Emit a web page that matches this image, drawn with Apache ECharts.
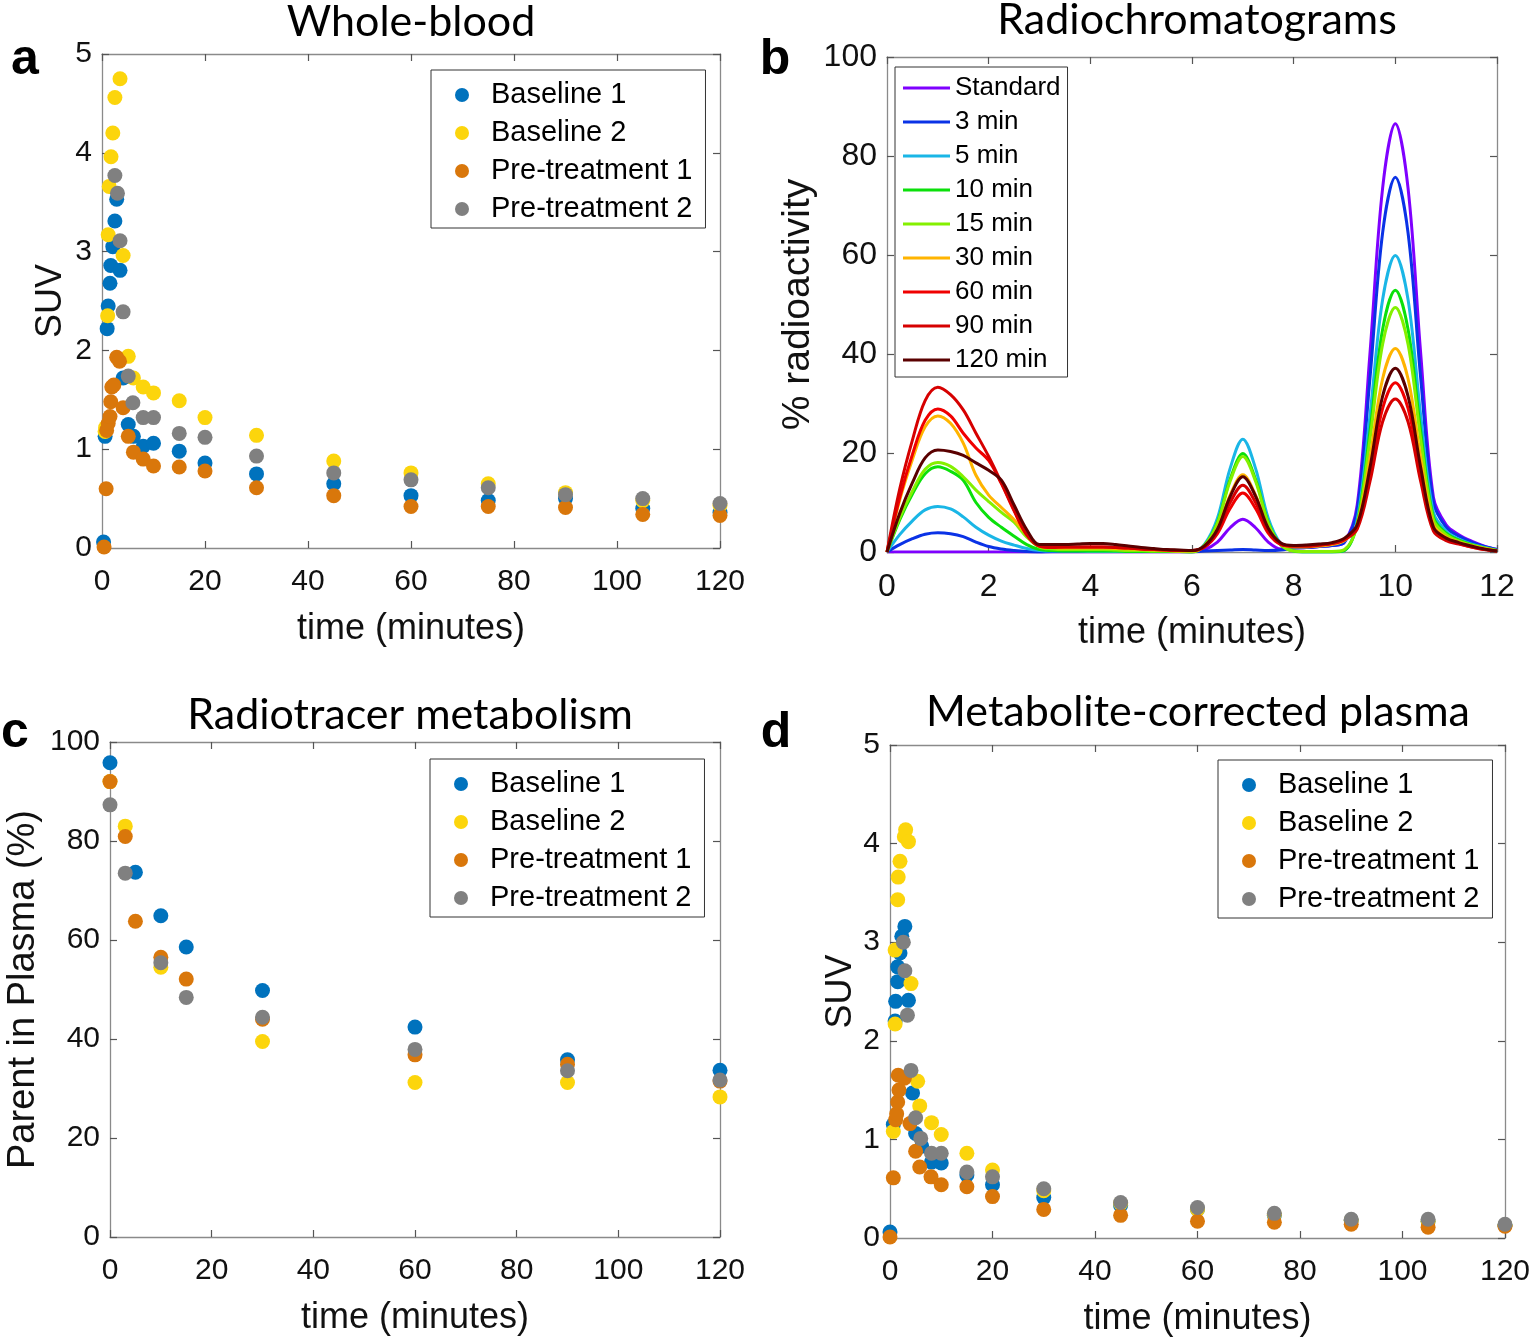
<!DOCTYPE html>
<html><head><meta charset="utf-8">
<script src="https://cdn.jsdelivr.net/npm/echarts@6/dist/echarts.min.js"></script>
<style>html,body{margin:0;padding:0;background:#fff}#c{width:1533px;height:1338px}</style>
</head><body><div id="c"></div>
<script>
// ---------- Panel a: Whole-blood SUV ----------
const wbB1_t = [0.3, 0.6, 1.0, 1.2, 1.55, 1.7, 2.1, 2.5, 2.85, 3.5, 4.1, 5.1, 6.1, 8, 10, 15, 20, 30, 45, 60, 75, 90, 105, 120];
const wbB1_v = [0.06, 1.13, 2.22, 2.45, 2.68, 2.86, 3.05, 3.31, 3.53, 2.81, 1.72, 1.25, 1.13, 1.03, 1.06, 0.98, 0.86, 0.75, 0.65, 0.53, 0.48, 0.50, 0.40, 0.36];
const wbB2_t = [0.6, 0.7, 1.1, 1.2, 1.4, 1.75, 2.1, 2.5, 3.5, 4.1, 5.1, 6.1, 8, 10, 15, 20, 30, 45, 60, 75, 90, 105, 120];
const wbB2_v = [1.18, 1.22, 2.35, 3.17, 3.66, 3.96, 4.20, 4.56, 4.75, 2.96, 1.94, 1.72, 1.63, 1.57, 1.49, 1.32, 1.14, 0.88, 0.76, 0.65, 0.56, 0.48, 0.43];
const wbP1_t = [0.4, 0.8, 0.9, 1.2, 1.55, 1.7, 1.9, 2.3, 2.85, 3.4, 4.1, 5.1, 6.1, 8, 10, 15, 20, 30, 45, 60, 75, 90, 105, 120];
const wbP1_v = [0.01, 0.60, 1.19, 1.26, 1.33, 1.48, 1.63, 1.65, 1.93, 1.89, 1.42, 1.13, 0.97, 0.90, 0.83, 0.82, 0.78, 0.61, 0.53, 0.42, 0.42, 0.41, 0.34, 0.33];
const wbP2_t = [2.5, 3.0, 3.5, 4.1, 5.1, 6.0, 8, 10, 15, 20, 30, 45, 60, 75, 90, 105, 120];
const wbP2_v = [3.77, 3.59, 3.11, 2.39, 1.74, 1.47, 1.32, 1.32, 1.16, 1.12, 0.93, 0.76, 0.69, 0.61, 0.54, 0.50, 0.45];

// ---------- Panel b: Radiochromatograms ----------
const rcTime = [0,0.25,0.5,0.75,1,1.25,1.5,1.75,2,2.25,2.5,2.75,3,3.25,3.5,3.75,4,4.25,4.5,4.75,5,5.25,5.5,5.75,6,6.25,6.5,6.75,7,7.25,7.5,7.75,8,8.25,8.5,8.75,9,9.25,9.5,9.75,10,10.25,10.5,10.75,11,11.25,11.5,11.75,12];
const rcNames = ['Standard','3 min','5 min','10 min','15 min','30 min','60 min','90 min','120 min'];
const rcStandard = [0,0,0,0,0,0,0,0,0,0,0,0,0, 0,0,0,0,0,0,0,0,0,0,0, 0,0.5,2.0,4.9,6.6,4.9,2.0,0.6,0.8, 0.9,1.1,1.3, 2.0,9.5,40,73.5,86.5,73.5,40,11,5.5, 3.5,2.2,1.2,0.5];
const rc3 = [0,1.5,2.7,3.6,3.9,3.7,3.1,2.0,1.1,0.6,0.3,0.1,0, 0.1,0.1,0.1,0.1,0.1,0.1,0.1,0.1,0.1,0.1,0.1, 0.1,0.2,0.3,0.4,0.5,0.4,0.3,0.4,0.8, 0.9,1.1,1.3, 2.0,8.5,35,64.5,75.7,64.5,35,10,5, 3.2,2.0,1.1,0.5];
const rc5 = [0,3.5,6.3,8.5,9.2,8.7,7.1,5.0,3.4,2.2,1.4,0.7,0.3, 0.2,0.2,0.2,0.1,0.1,0.1,0.1,0.1,0.1,0.1,0.1, 0,1.6,6.8,16.9,22.8,16.9,6.8,1.6,0.2, 0,0,0, 0.3,6.5,27.5,51,59.9,51,27.5,8,4.2, 2.6,1.6,0.9,0.3];
const rc10 = [0,6.5,11.7,15.8,17.2,16.3,14.5,10,7,5,3.2,1.5,0.5, 0.3,0.2,0.2,0.2,0.2,0.2,0.1,0.1,0.1,0.1,0.1, 0,1.4,6.0,14.7,19.9,14.7,6.0,1.4,0.2, 0,0,0, 0.3,5.8,24.3,45,52.9,45,24.3,7,3.8, 2.4,1.5,0.8,0.3];
const rc15 = [0,6.9,12.3,16.7,18.1,17.3,15.2,12.5,10.2,8,6,3,1, 0.6,0.5,0.5,0.5,0.5,0.4,0.3,0.3,0.2,0.2,0.1, 0,1.4,5.8,14.3,19.3,14.3,5.8,1.4,0.2, 0.1,0.1,0.1, 0.5,5.5,22.7,42,49.4,42,22.7,6.5,3.5, 2.2,1.4,0.8,0.3];
const rc30 = [0,10.5,18.7,25.3,27.5,26,22,15.5,11.5,9,6.5,3.5,1.2, 0.9,0.8,0.8,0.8,0.8,0.7,0.6,0.5,0.4,0.3,0.2, 0.2,1.2,4.7,11.5,15.6,11.5,4.8,1.6,1.0, 1.0,1.2,1.5, 2.3,5.5,19,35,41.1,35,19,5.5,3.0, 2.0,1.2,0.7,0.2];
const rc60 = [0,11,19.7,26.6,28.9,27.5,24,21,18.5,13.8,8.3,3.4,1.2, 0.9,1.0,1.0,1.0,1.0,0.9,0.8,0.6,0.5,0.4,0.3, 0.3,1.0,3.7,8.8,11.9,8.8,3.8,1.5,1.2, 1.2,1.4,1.7, 2.5,5,15.7,29,34.2,29,15.7,4.6,2.5, 1.7,1.0,0.5,0.2];
const rc90 = [0,12.7,22.6,30.6,33.3,31.8,28.7,24,19.3,14,8.5,3.5,1.2, 1.0,1.0,1.0,1.0,1.0,0.9,0.8,0.6,0.5,0.4,0.3, 0.3,1.1,4.2,10,13.5,10,4.3,1.6,1.2, 1.2,1.4,1.7, 2.5,4.6,14.2,26.3,30.9,26.3,14.2,4.2,2.3, 1.6,1.0,0.5,0.2];
const rc120 = [0,7.8,14,19,20.6,20.3,19.5,18,16.5,14.5,9.5,4.5,1.5, 1.5,1.5,1.6,1.7,1.7,1.5,1.2,0.9,0.7,0.5,0.4, 0.3,1.3,4.6,11.2,15.2,11.3,4.8,1.8,1.3, 1.4,1.6,1.9, 2.8,5.5,17,31.5,37.1,31.5,17,5,2.8, 1.9,1.2,0.6,0.2];
const rcColors = ['#7f00ff','#0a32e6','#1ab6e6','#0be00b','#84f000','#ffb400','#f00000','#d60000','#5a0000'];

// ---------- Panel c: Parent fraction ----------
const pfB1_t = [0, 5, 10, 15, 30, 60, 90, 120];
const pfB1_v = [95.8, 73.7, 64.9, 58.6, 49.8, 42.4, 35.8, 33.7];
const pfB2_t = [0, 3, 10, 30, 60, 90, 120];
const pfB2_v = [92, 83, 54.5, 39.5, 31.2, 31.2, 28.3];
const pfP1_t = [0, 3, 5, 10, 15, 30, 60, 90, 120];
const pfP1_v = [92, 80.9, 63.8, 56.5, 52.1, 44, 36.8, 34.9, 31.5];
const pfP2_t = [0, 3, 10, 15, 30, 60, 90, 120];
const pfP2_v = [87.3, 73.5, 55.4, 48.4, 44.4, 37.9, 33.6, 31.7];

// ---------- Panel d: Metabolite-corrected plasma SUV ----------
const mcB1_t = [0, 0.65, 1.0, 1.1, 1.5, 1.5, 1.95, 2.3, 2.9, 3.6, 4.4, 5.0, 6.2, 8.1, 10, 15, 20, 30, 45, 60, 75, 90, 105, 120];
const mcB1_v = [0.06, 1.15, 2.2, 2.40, 2.6, 2.75, 2.89, 3.06, 3.16, 2.41, 1.47, 1.06, 0.93, 0.77, 0.76, 0.64, 0.54, 0.41, 0.33, 0.29, 0.23, 0.18, 0.17, 0.13];
const mcB2_t = [0.65, 1.0, 1.0, 1.5, 1.6, 1.95, 2.8, 3.05, 3.6, 4.1, 5.4, 5.8, 8.1, 10, 15, 20, 30, 45, 60, 75, 90, 105, 120];
const mcB2_v = [1.08, 2.17, 2.92, 3.43, 3.66, 3.82, 4.07, 4.14, 4.02, 2.58, 1.59, 1.34, 1.17, 1.05, 0.86, 0.69, 0.48, 0.35, 0.29, 0.24, 0.18, 0.17, 0.13];
const mcP1_t = [0, 0.65, 1.1, 1.3, 1.5, 1.6, 1.75, 2.8, 3.9, 5.0, 5.8, 8, 10, 15, 20, 30, 45, 60, 75, 90, 105, 120];
const mcP1_v = [0.01, 0.61, 1.2, 1.26, 1.38, 1.65, 1.5, 1.62, 1.16, 0.88, 0.72, 0.62, 0.54, 0.52, 0.42, 0.29, 0.23, 0.17, 0.16, 0.14, 0.11, 0.12];
const mcP2_t = [2.6, 2.9, 3.4, 4.1, 5.0, 6.0, 8.1, 10, 15, 20, 30, 45, 60, 75, 90, 105, 120];
const mcP2_v = [3.0, 2.71, 2.26, 1.70, 1.22, 1.01, 0.86, 0.86, 0.67, 0.62, 0.50, 0.36, 0.31, 0.25, 0.19, 0.19, 0.14];

const groupNames = ['Baseline 1','Baseline 2','Pre-treatment 1','Pre-treatment 2'];
const groupColors = ['#0072bd','#fcd50c','#d9770b','#808080'];

// ---------- build ----------
const FONT = '"Liberation Sans", Arial, Helvetica, sans-serif';
const TFONT = 'Lato, "Noto Sans", sans-serif';
const zip = (t, v) => t.map((x, i) => [x, v[i]]);

const grids = [
  {left:102, top:54, width:618, height:494},
  {left:887, top:57, width:610, height:495},
  {left:110, top:742, width:610, height:495},
  {left:890, top:745, width:617, height:493}
];
const axCol = '#8a8a8a', tkCol = '#555';
function xPair(gi, max, interval, fs, name, gap) {
  const base = {type:'value', gridIndex:gi, min:0, max:max, interval:interval, splitLine:{show:false},
    axisLine:{show:true, onZero:false, lineStyle:{color:axCol, width:1.3}},
    axisTick:{show:true, inside:true, length:7, lineStyle:{color:tkCol, width:1.2}}};
  return [
    Object.assign({}, base, {position:'bottom',
      axisLabel:{fontSize:fs, fontFamily:FONT, color:'#111', margin:19},
      name:name, nameLocation:'middle', nameGap:gap,
      nameTextStyle:{fontSize:36, fontFamily:FONT, color:'#111'}}),
    Object.assign({}, base, {position:'top', axisLabel:{show:false}})
  ];
}
function yPair(gi, max, interval, fs, name, gap, nfs) {
  const base = {type:'value', gridIndex:gi, min:0, max:max, interval:interval, splitLine:{show:false},
    axisLine:{show:true, onZero:false, lineStyle:{color:axCol, width:1.3}},
    axisTick:{show:true, inside:true, length:7, lineStyle:{color:tkCol, width:1.2}}};
  return [
    Object.assign({}, base, {position:'left',
      axisLabel:{fontSize:fs, fontFamily:FONT, color:'#111', margin:10},
      name:name, nameLocation:'middle', nameGap:gap, nameRotate:90,
      nameTextStyle:{fontSize:nfs, fontFamily:FONT, color:'#111'}}),
    Object.assign({}, base, {position:'right', axisLabel:{show:false}})
  ];
}
const xAxis = [].concat(
  xPair(0, 120, 20, 30, 'time (minutes)', 63),
  xPair(1, 12, 2, 32, 'time (minutes)', 63),
  xPair(2, 120, 20, 30, 'time (minutes)', 63),
  xPair(3, 120, 20, 30, 'time (minutes)', 63));
const yAxis = [].concat(
  yPair(0, 5, 1, 30, 'SUV', 33, 36),
  yPair(1, 100, 20, 32, '% radioactivity', 69, 39),
  yPair(2, 100, 20, 30, 'Parent in Plasma (%)', 67, 38),
  yPair(3, 5, 1, 30, 'SUV', 31, 36));

const series = [];
function addScatter(gi, sets) {
  sets.forEach((s, k) => {
    series.push({type:'scatter', name:groupNames[k], xAxisIndex:2*gi, yAxisIndex:2*gi,
      data: zip(s[0], s[1]), symbol:'circle', symbolSize:15,
      itemStyle:{color:groupColors[k], opacity:1}, silent:true});
  });
}
addScatter(0, [[wbB1_t, wbB1_v],[wbB2_t, wbB2_v],[wbP1_t, wbP1_v],[wbP2_t, wbP2_v]]);
addScatter(2, [[pfB1_t, pfB1_v],[pfB2_t, pfB2_v],[pfP1_t, pfP1_v],[pfP2_t, pfP2_v]]);
addScatter(3, [[mcB1_t, mcB1_v],[mcB2_t, mcB2_v],[mcP1_t, mcP1_v],[mcP2_t, mcP2_v]]);
[rcStandard, rc3, rc5, rc10, rc15, rc30, rc60, rc90, rc120].forEach((v, k) => {
  series.push({type:'line', name:rcNames[k], xAxisIndex:2, yAxisIndex:2,
    data: zip(rcTime, v), smooth:0.35, symbol:'none', showSymbol:false,
    lineStyle:{color:rcColors[k], width:3}, itemStyle:{color:rcColors[k]}, silent:true, clip:true});
});

function scLegend(left, top) {
  return {orient:'vertical', left:left, top:top, padding:[10,13,4,24], itemWidth:48, itemHeight:14, itemGap:8,
    icon:'circle', borderColor:'#333', borderWidth:1, backgroundColor:'#fff', selectedMode:false,
    textStyle:{fontSize:29, fontFamily:FONT, color:'#000', lineHeight:30}, data:groupNames};
}
const legend = [
  scLegend(431, 70), scLegend(430, 759), scLegend(1218, 760),
  {orient:'vertical', left:895, top:67, padding:[8,7,4,8], itemWidth:47, itemHeight:3, itemGap:8,
   icon:'rect', borderColor:'#333', borderWidth:1, backgroundColor:'#fff', selectedMode:false,
   textStyle:{fontSize:26, fontFamily:FONT, color:'#000', lineHeight:26}, data:rcNames}
];

function txt(x, y, text, size, fam, weight) {
  return {type:'text', x:x, y:y, silent:true,
    style:{text:text, fontSize:size, fontFamily:fam, fontWeight:weight||'normal', fill:'#000', align:'center', verticalAlign:'middle'}};
}
const graphic = [
  txt(411, 22, 'Whole-blood', 43, TFONT),
  txt(1197, 20, 'Radiochromatograms', 43, TFONT),
  txt(410, 715, 'Radiotracer metabolism', 43, TFONT),
  txt(1198, 712, 'Metabolite-corrected plasma', 43, TFONT),
  txt(25, 60, 'a', 50, FONT, 'bold'),
  txt(775, 60, 'b', 50, FONT, 'bold'),
  txt(15, 733, 'c', 50, FONT, 'bold'),
  txt(776, 733, 'd', 50, FONT, 'bold')
];

const chart = echarts.init(document.getElementById('c'), null, {renderer:'canvas'});
chart.setOption({animation:false, backgroundColor:'#fff', grid:grids, xAxis:xAxis, yAxis:yAxis,
  series:series, legend:legend, graphic:graphic});
</script></body></html>
